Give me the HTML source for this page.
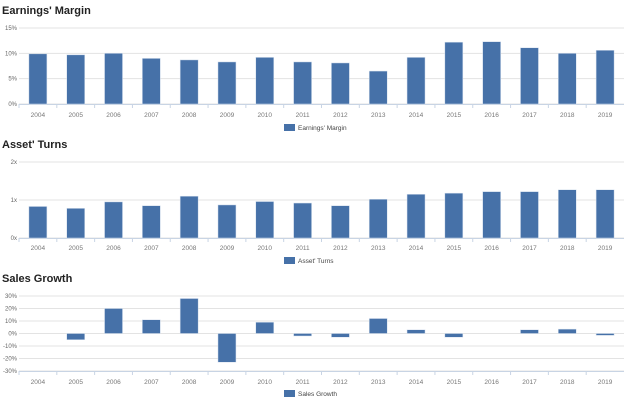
<!DOCTYPE html>
<html><head><meta charset="utf-8"><style>
body{margin:0;background:#fff;font-family:"Liberation Sans",sans-serif;}
svg{display:block}
</style></head><body>
<svg width="628" height="405" id="svg">
<g id="c"></g>
</svg>
<script>
const years=["2004","2005","2006","2007","2008","2009","2010","2011","2012","2013","2014","2015","2016","2017","2018","2019"];
const margin=[9.9,9.7,10,9,8.7,8.3,9.2,8.3,8.1,6.5,9.2,12.2,12.3,11.1,10,10.6];
const turns=[0.83,0.78,0.95,0.85,1.1,0.87,0.96,0.92,0.85,1.02,1.15,1.18,1.22,1.22,1.27,1.27];
const growth=[0,-5,20,11,28,-23,9,-2,-3,12,3,-3,0,3,3.5,-1.5];
const marginTicks=[0,5,10,15];
const turnsTicks=[0,1,2];
const growthTicks=[-30,-20,-10,0,10,20,30];
const NS="http://www.w3.org/2000/svg";
const g=document.getElementById('c');
function el(t,a,txt){const e=document.createElementNS(NS,t);for(const k in a)e.setAttribute(k,a[k]);if(txt!==undefined)e.textContent=txt;g.appendChild(e);return e;}
const X0=19,X1=624,cw=(X1-X0)/years.length;
function chart(title,ty,vals,ticks,fmt,yTop,yBot,labY,legY,legend,key){
  const mn=ticks[0],mx=ticks[ticks.length-1];
  const y=v=>yBot-(v-mn)/(mx-mn)*(yBot-yTop);
  let t=el('text',{x:2,y:ty,'font-size':11,'font-weight':'bold',fill:'#222'},title);
  
  ticks.forEach(v=>{
    let l=el('line',{x1:X0,x2:X1,y1:y(v),y2:y(v),stroke:'#e3e3e3','stroke-width':1});
    
    let tx=el('text',{x:X0-2,y:y(v)+2,'font-size':6,fill:'#666','text-anchor':'end'},fmt(v));
    
  });
  let ax=el('line',{x1:X0,x2:X1,y1:yBot+0.5,y2:yBot+0.5,stroke:'#c8d4e4','stroke-width':1});
  
  const z=y(Math.max(0,mn));
  years.forEach((yr,i)=>{
    let tk=el('line',{x1:X0+i*cw,x2:X0+i*cw,y1:yBot,y2:yBot+4,stroke:'#c8d4e4'});
    
    const cx=X0+(i+0.5)*cw,v=vals[i];
    const top=Math.min(y(v),z),h=Math.abs(y(v)-z);
    let b=el('rect',{x:cx-9,y:top,width:18,height:Math.max(h,0),fill:'#4671a8',stroke:'#d8e2ef','stroke-width':0.5});
    
    let lb=el('text',{x:cx,y:labY,'font-size':6.5,fill:'#777','text-anchor':'middle'},yr);
    
  });
  let lr=el('rect',{x:284,y:legY-6,width:11,height:7,fill:'#4671a8'});
  
  let lt=el('text',{x:298,y:legY,'font-size':6.5,fill:'#444'},legend);
  
}
chart("Earnings' Margin",14,margin,marginTicks,v=>v+'%',28,104,117,130,"Earnings' Margin",'margin');
chart("Asset' Turns",148,turns,turnsTicks,v=>v+'x',162,238,250,263,"Asset' Turns",'turns');
chart("Sales Growth",282,growth,growthTicks,v=>v+'%',296,371,384,396,"Sales Growth",'growth');
</script>
</body></html>
